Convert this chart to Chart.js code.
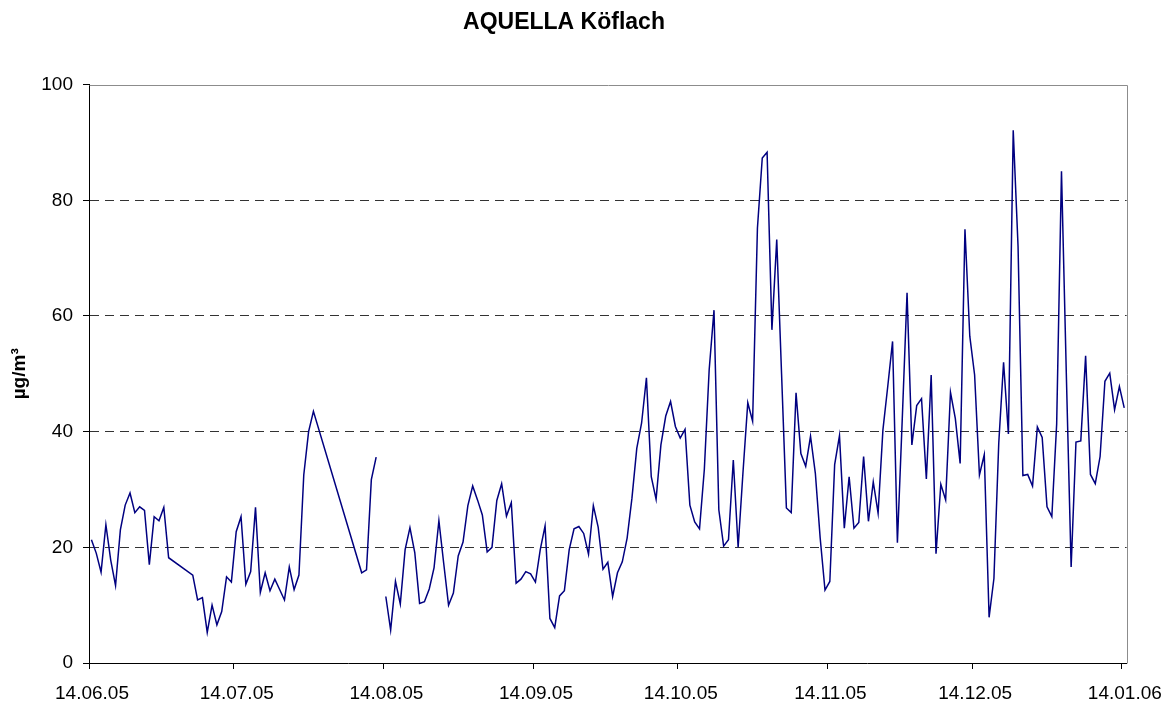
<!DOCTYPE html>
<html>
<head>
<meta charset="utf-8">
<script src="https://cdn.jsdelivr.net/npm/chart.js@4/dist/chart.umd.min.js"></script>
<style>
  html, body { margin: 0; padding: 0; background: #fff; }
  #wrap { width: 1172px; height: 704px; }
</style>
</head>
<body>
<div id="wrap"><canvas id="c" width="1172" height="704"></canvas></div>
<script>
// Day offsets from 14.06.05 (daily means, plotted at midday)
const days = [
  0,1,2,3,4,5,6,7,8,9,10,11,12,13,14,15,16,
  21,22,23,24,25,26,27,28,29,30,31,32,33,34,35,36,37,38,39,40,41,42,43,44,45,46,
  56,57,58,59,60,
  61,62,63,64,65,66,67,68,69,70,71,72,73,74,75,76,77,78,79,80,
  81,82,83,84,85,86,87,88,89,90,91,92,93,94,95,96,97,98,99,100,
  101,102,103,104,105,106,107,108,109,110,111,112,113,114,115,116,117,118,119,120,
  121,122,123,124,125,126,127,128,129,130,131,132,133,134,135,136,137,138,139,140,
  141,142,143,144,145,146,147,148,149,150,151,152,153,154,155,156,157,158,159,160,
  161,162,163,164,165,166,167,168,169,170,171,172,173,174,175,176,177,178,179,180,
  181,182,183,184,185,186,187,188,189,190,191,192,193,194,195,196,197,198,199,200,
  201,202,203,204,205,206,207,208,209,210,211,212,213,214
];
const values = [
  21.3,19.0,15.7,23.9,17.8,13.4,23.0,27.3,29.4,26.0,27.0,26.4,17.0,25.3,24.6,26.9,18.2,
  15.2,10.9,11.3,5.3,10.0,6.6,8.9,14.9,14.0,22.7,25.3,13.6,15.8,26.9,12.2,15.6,12.5,14.5,12.7,10.9,16.6,12.7,15.2,32.5,40.0,43.5,
  15.6,16.1,31.7,35.6,null,
  11.5,5.7,14.1,10.2,19.6,23.4,19.1,10.3,10.6,12.8,16.5,24.6,17.2,10.0,12.1,18.5,20.9,27.2,30.6,28.2,
  25.6,19.2,20.0,28.1,31.0,25.4,27.7,13.8,14.5,15.8,15.4,14.0,19.6,23.7,7.7,6.1,11.6,12.5,19.6,23.2,
  23.6,22.4,18.8,27.2,23.5,16.2,17.4,11.5,15.6,17.5,21.6,28.5,37.1,41.5,49.3,32.2,28.3,37.7,42.7,45.2,
  40.9,38.9,40.4,27.3,24.4,23.2,33.5,50.7,61.0,26.5,20.2,21.3,35.1,20.0,32.9,45.0,41.8,75.2,87.3,88.3,
  57.6,73.2,50.0,26.8,26.0,46.7,36.2,34.0,39.2,32.8,21.6,12.6,14.1,34.3,39.3,23.3,32.2,23.3,24.3,35.7,
  24.5,31.3,25.9,40.3,47.8,55.6,20.8,42.0,64.0,37.7,44.5,45.7,31.8,49.8,18.9,30.9,28.2,46.8,42.3,34.5,
  75.0,56.5,49.8,32.5,36.0,7.9,14.6,38.0,52.0,39.6,92.1,72.0,32.4,32.6,30.6,40.8,39.0,27.0,25.3,41.3,
  85.0,50.0,16.6,38.2,38.4,53.1,32.6,31.0,35.7,48.7,50.1,43.8,47.8,44.1
];
const tickDays = [0, 30, 61, 92, 122, 153, 183, 214];
const tickLabels = ['14.06.05','14.07.05','14.08.05','14.09.05','14.10.05','14.11.05','14.12.05','14.01.06'];
const yTicks = [0, 20, 40, 60, 80, 100];

const FONT = '"Liberation Sans", Arial, Helvetica, sans-serif';
Chart.defaults.color = '#000';
Chart.defaults.font.family = FONT;

const points = days.map((d, i) => ({ x: d + 0.5, y: values[i] }));

const framePlugin = {
  id: 'frame',
  beforeDatasetsDraw(chart) {
    const { ctx, chartArea: a } = chart;
    ctx.save();
    ctx.strokeStyle = '#8c8c8c';
    ctx.lineWidth = 1;
    ctx.beginPath();
    ctx.moveTo(Math.round(a.left) + 0.5, Math.round(a.top) + 0.5);
    ctx.lineTo(Math.round(a.right) + 0.5, Math.round(a.top) + 0.5);
    ctx.lineTo(Math.round(a.right) + 0.5, Math.round(a.bottom) + 0.5);
    ctx.stroke();
    ctx.restore();
  }
};

new Chart(document.getElementById('c'), {
  type: 'line',
  data: {
    datasets: [{
      label: 'AQUELLA Köflach',
      data: points,
      borderColor: '#000080',
      borderWidth: 1.5,
      pointRadius: 0,
      tension: 0,
      spanGaps: false,
      fill: false
    }]
  },
  options: {
    responsive: false,
    animation: false,
    layout: { padding: { left: 0, right: 44, top: 0, bottom: 0 } },
    plugins: {
      legend: { display: false },
      tooltip: { enabled: false },
      title: {
        display: true,
        text: 'AQUELLA Köflach',
        color: '#000',
        font: { size: 23, weight: 'bold', family: FONT },
        padding: { top: 9, bottom: 48 }
      }
    },
    scales: {
      x: {
        type: 'linear',
        min: 0,
        max: 215,
        afterFit(s) { s.height = 41; },
        afterBuildTicks(s) { s.ticks = tickDays.map(v => ({ value: v })); },
        ticks: {
          autoSkip: false,
          maxRotation: 0,
          padding: 13,
          labelOffset: 3,
          font: { size: 19, family: FONT },
          color: '#000',
          callback: (v, i) => tickLabels[i]
        },
        grid: { drawOnChartArea: false, drawTicks: true, tickLength: 6, tickColor: '#000', tickWidth: 1 },
        border: { display: true, color: '#000', width: 1 }
      },
      y: {
        type: 'linear',
        min: 0,
        max: 100,
        afterFit(s) { s.width = 89; },
        afterBuildTicks(s) { s.ticks = yTicks.map(v => ({ value: v })); },
        ticks: {
          padding: 10,
          font: { size: 19, family: FONT },
          color: '#000'
        },
        grid: {
          drawOnChartArea: true,
          drawTicks: true,
          tickLength: 6,
          tickColor: '#000',
          tickWidth: 1,
          lineWidth: 1,
          color: (ctx) => (ctx.tick && (ctx.tick.value === 0 || ctx.tick.value === 100)) ? 'rgba(0,0,0,0)' : '#333'
        },
        border: { display: true, color: '#000', width: 1, dash: [9, 6] },
        title: {
          display: true,
          text: 'µg/m³',
          color: '#000',
          font: { size: 19, weight: 'bold', family: FONT },
          padding: { top: 8.6, bottom: 0 }
        }
      }
    }
  },
  plugins: [framePlugin]
});
</script>
</body>
</html>
